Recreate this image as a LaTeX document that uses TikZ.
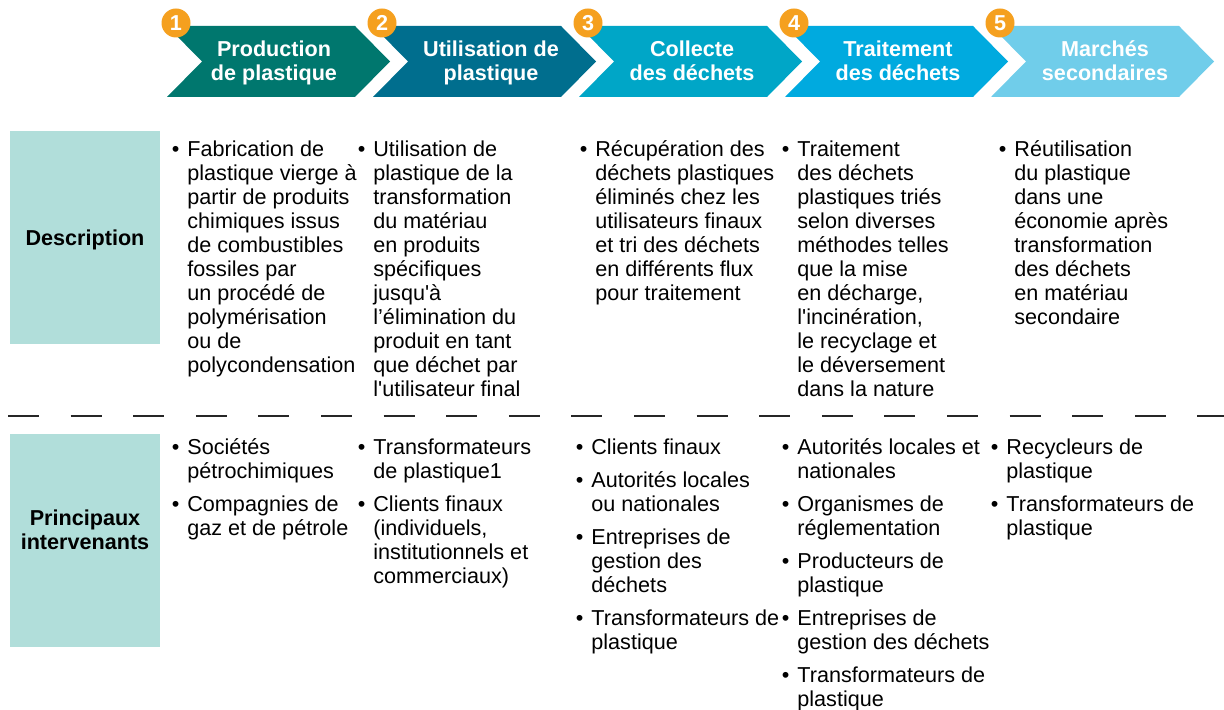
\documentclass[tikz,border=0pt]{standalone}
\usepackage{fontspec}
\setmainfont{Liberation Sans}[Ligatures=TeXOff]
\usepackage{tikz}
\usetikzlibrary{positioning}

\definecolor{stepA}{HTML}{00776E}
\definecolor{stepB}{HTML}{006E8E}
\definecolor{stepC}{HTML}{00A6C7}
\definecolor{stepD}{HTML}{00AADF}
\definecolor{stepE}{HTML}{70CDEA}
\definecolor{numorange}{HTML}{F5A01F}
\definecolor{rowteal}{HTML}{B1DEDA}

\newcommand{\bul}{\llap{•\hspace{4pt}}}
\newcommand{\gap}{\\[4.5pt]}

\tikzset{
  every node/.style={inner sep=0pt, font=\fontsize{10.8pt}{12pt}\selectfont},
  body/.style={align=left, anchor=north west, execute at begin node=\strut},
  steptext/.style={font=\bfseries\fontsize{10.8pt}{12pt}\selectfont, text=white, align=center, anchor=north, execute at begin node=\strut},
  numdot/.style={circle, fill=numorange, text=white, minimum size=14.5pt, font=\bfseries\fontsize{10.8pt}{12pt}\selectfont},
  rowbox/.style={fill=rowteal, minimum width=75pt, minimum height=106.5pt},
  rowtext/.style={font=\bfseries\fontsize{10.8pt}{12pt}\selectfont, align=center},
  sepline/.style={line width=0.8pt, black!85, dash pattern=on 15.5pt off 15.8pt}
}

\begin{document}
\begin{tikzpicture}[x=0.5pt, y=-0.5pt]
  \useasboundingbox (0,0) rectangle (1224,710);

  % steps
  \foreach \i/\col/\dx/\txt [evaluate=\i as \xo using 167+206*(\i-1)] in
    {1/stepA/107/{Production\\de plastique}, 2/stepB/118/{Utilisation de\\plastique},
     3/stepC/113/{Collecte\\des déchets}, 4/stepD/113/{Traitement\\des déchets},
     5/stepE/114/{Marchés\\secondaires}}
  {
    \fill[\col] (\xo,26) -- ++(188,0) -- ++(35,35.5) -- ++(-35,35.5) -- ++(-188,0) -- ++(35,-35.5) -- cycle;
    \node[steptext] (step\i) at (\xo+\dx,40.2) {\txt};
    \node[numdot] (num\i) at (\xo+9,23) {\i};
  }

  % row labels
  \node[rowbox] (descbox) at (85,237.5) {};
  \node[rowtext] (desclab) at ([yshift=-1pt]descbox.center) {Description};
  \node[rowbox] (whobox) at (85,540.5) {};
  \node[rowtext] (wholab) at ([yshift=5.5pt]whobox.center) {Principaux\\intervenants};

  \draw[sepline] (8,416) -- (1224,416);

  % description
  \node[body] (desc1) at (187,140.2) {\bul Fabrication de\\plastique vierge à\\partir de produits\\chimiques issus\\de combustibles\\fossiles par\\un procédé de\\polymérisation\\ou de\\polycondensation};
  \node[body] (desc2) at (373,140.2) {\bul Utilisation de\\plastique de la\\transformation\\du matériau\\en produits\\spécifiques\\jusqu'à\\l’élimination du\\produit en tant\\que déchet par\\l'utilisateur final};
  \node[body] (desc3) at (595,140.2) {\bul Récupération des\\déchets plastiques\\éliminés chez les\\utilisateurs finaux\\et tri des déchets\\en différents flux\\pour traitement};
  \node[body] (desc4) at (797,140.2) {\bul Traitement\\des déchets\\plastiques triés\\selon diverses\\méthodes telles\\que la mise\\en décharge,\\l'incinération,\\le recyclage et\\le déversement\\dans la nature};
  \node[body] (desc5) at (1014,140.2) {\bul Réutilisation\\du plastique\\dans une\\économie après\\transformation\\des déchets\\en matériau\\secondaire};

  % main actors
  \node[body] (who1) at (187,438.2) {\bul Sociétés\\pétrochimiques\gap\bul Compagnies de\\gaz et de pétrole};
  \node[body] (who2) at (373,438.2) {\bul Transformateurs\\de plastique1\gap\bul Clients finaux\\(individuels,\\institutionnels et\\commerciaux)};
  \node[body] (who3) at (591,438.2) {\bul Clients finaux\gap\bul Autorités locales\\ou nationales\gap\bul Entreprises de\\gestion des\\déchets\gap\bul Transformateurs de\\plastique};
  \node[body] (who4) at (797,438.2) {\bul Autorités locales et\\nationales\gap\bul Organismes de\\réglementation\gap\bul Producteurs de\\plastique\gap\bul Entreprises de\\gestion des déchets\gap\bul Transformateurs de\\plastique};
  \node[body] (who5) at (1006,438.2) {\bul Recycleurs de\\plastique\gap\bul Transformateurs de\\plastique};
\end{tikzpicture}
\end{document}
